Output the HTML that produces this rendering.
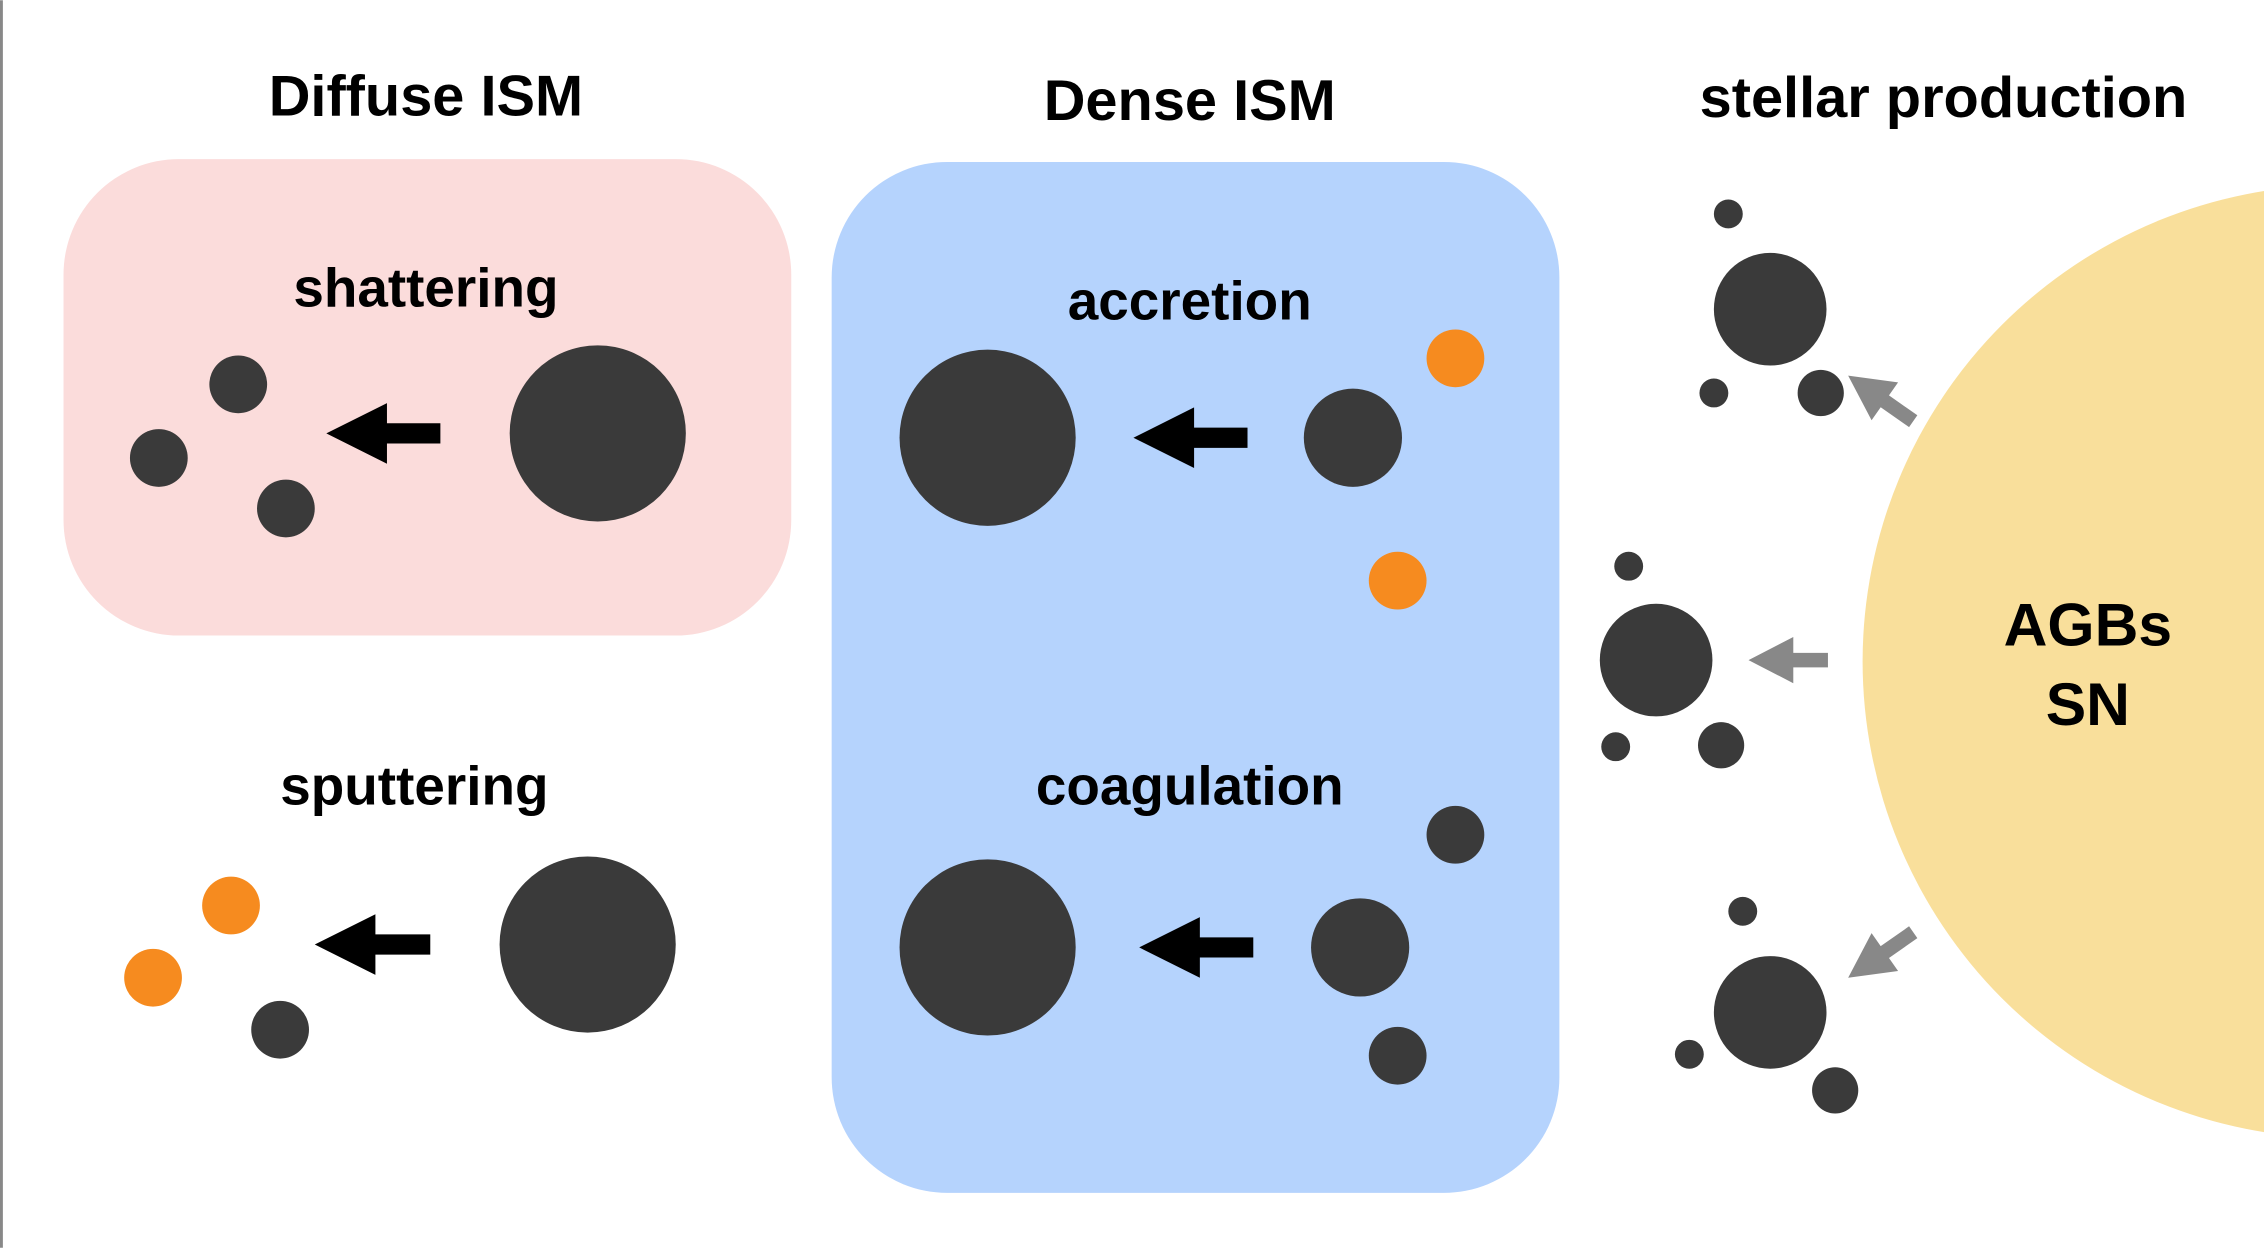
<!DOCTYPE html>
<html><head><meta charset="utf-8"><style>
html,body{margin:0;padding:0;background:#fff;}
svg{display:block;}
text{font-family:"Liberation Sans",sans-serif;font-weight:bold;fill:#000;text-anchor:middle;}
</style></head><body>
<svg width="2264" height="1248" viewBox="0 0 1568 864" xmlns="http://www.w3.org/2000/svg">
<rect x="0" y="0" width="1568" height="864" fill="#fff"/>
<line x1="1" y1="0" x2="1" y2="864" stroke="#888" stroke-width="2"/>
<circle cx="1620" cy="458" r="330" fill="#f9df9b"/>
<rect x="44" y="110" width="504" height="330" rx="80" ry="80" fill="#fbdcdb"/>
<rect x="576" y="112" width="504" height="714" rx="80" ry="80" fill="#b5d3fd"/>

<text x="295" y="80" font-size="40">Diffuse ISM</text>
<text x="824" y="83" font-size="40">Dense ISM</text>
<text x="1346" y="81" font-size="40">stellar production</text>
<text x="295" y="212" font-size="38">shattering</text>
<text x="824" y="221" font-size="38">accretion</text>
<text x="287" y="557" font-size="38">sputtering</text>
<text x="824" y="557" font-size="38">coagulation</text>
<text x="1446" y="447" font-size="42">AGBs</text>
<text x="1446" y="502" font-size="42">SN</text>

<g fill="#3a3a3a">
<circle cx="414" cy="300" r="61"/><circle cx="165" cy="266" r="20"/><circle cx="110" cy="317" r="20"/><circle cx="198" cy="352" r="20"/>
<circle cx="684" cy="303" r="61"/><circle cx="937" cy="303" r="34"/>
<circle cx="407" cy="654" r="61"/><circle cx="194" cy="713" r="20"/>
<circle cx="684" cy="656" r="61"/><circle cx="942" cy="656" r="34"/><circle cx="1008" cy="578" r="20"/><circle cx="968" cy="731" r="20"/>
<circle cx="1226" cy="214" r="39"/><circle cx="1197" cy="148" r="10"/><circle cx="1187" cy="272" r="10"/><circle cx="1261" cy="272" r="16"/>
<circle cx="1147" cy="457" r="39"/><circle cx="1128" cy="392" r="10"/><circle cx="1119" cy="517" r="10"/><circle cx="1192" cy="516" r="16"/>
<circle cx="1226" cy="701" r="39"/><circle cx="1207" cy="631" r="10"/><circle cx="1170" cy="730" r="10"/><circle cx="1271" cy="755" r="16"/>
</g>
<g fill="#f68b1f">
<circle cx="1008" cy="248" r="20"/><circle cx="968" cy="402" r="20"/>
<circle cx="160" cy="627" r="20"/><circle cx="106" cy="677" r="20"/>
</g>

<g fill="#000">
<polygon points="226,300 268,279 268,293 305,293 305,307 268,307 268,321"/>
<polygon points="785,303 827,282 827,296 864,296 864,310 827,310 827,324"/>
<polygon points="218,654 260,633 260,647 298,647 298,661 260,661 260,675"/>
<polygon points="789,656 831,635 831,649 868,649 868,663 831,663 831,677"/>
</g>
<g fill="#888">
<polygon points="1211,457 1242,441 1242,452 1266,452 1266,462 1242,462 1242,473"/>
<g transform="translate(1280,260) rotate(35)"><polygon points="0,0 31,-16 31,-5 55,-5 55,5 31,5 31,16"/></g>
<g transform="translate(1280,677) rotate(-35)"><polygon points="0,0 31,-16 31,-5 55,-5 55,5 31,5 31,16"/></g>
</g>
</svg>
</body></html>
